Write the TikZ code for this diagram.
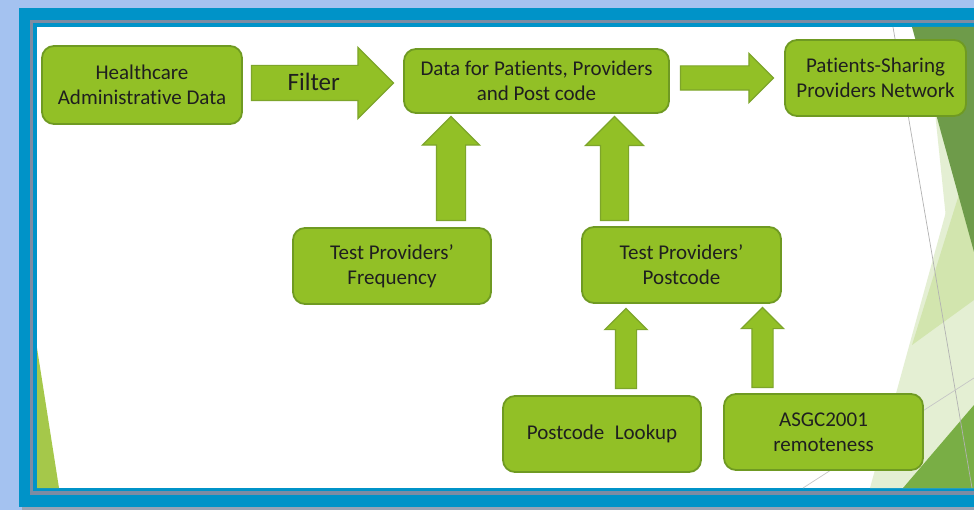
\documentclass[tikz,border=0pt]{standalone}
\usepackage{fontspec}
\setmainfont{Carlito}[Ligatures=NoCommon]
\usetikzlibrary{shapes.arrows,calc}

\definecolor{pageblue}{HTML}{A4C2F0}
\definecolor{frameblue}{HTML}{0093C8}
\definecolor{framegray}{HTML}{7D8CA3}
\definecolor{boxgreen}{HTML}{92C026}
\definecolor{boxedge}{HTML}{6F9A22}
\definecolor{arrowedge}{HTML}{7DA52A}
\definecolor{facetdark}{HTML}{6E9B4A}
\definecolor{facetmid}{HTML}{79AE45}
\definecolor{facetlight}{HTML}{D2E5AE}
\definecolor{facetpale}{HTML}{E4EFD3}
\definecolor{facetleft}{HTML}{A5C84A}

\tikzset{
  flowbox/.style={rectangle, rounded corners=12pt, draw=boxedge, line width=1.8pt,
    fill=boxgreen, align=center, text=black!88, inner sep=2pt,
    font=\fontsize{21}{25}\selectfont},
  fatarrow/.style={single arrow, single arrow tip angle=90, draw=arrowedge,
    line width=1.2pt, fill=boxgreen, inner xsep=0pt, text=black!88},
}

\begin{document}
\begin{tikzpicture}[x=1pt, y=-1pt]
    \useasboundingbox (0,0) rectangle (974,510);
    % 1. Slide background and frame
    \fill[pageblue] (0,0) rectangle (974,510);
    \fill[framegray!80] (22,11) rectangle (980,510);
    \fill[frameblue] (19,8) rectangle (980,507);
    \fill[framegray] (30,20) rectangle (980,495);
    \fill[frameblue] (33,23) rectangle (980,491);
    \fill[white] (37,27) rectangle (980,488);

    % 2. Facet triangles
    \fill[facetleft] (37,348) -- (37,488) -- (59,488) -- cycle;
    \fill[facetpale] (870,488) -- (974,110) -- (974,488) -- cycle;
    \fill[facetpale] (935,112) -- (947,228) -- (974,228) -- (974,112) -- cycle;
    \fill[facetlight] (912,345) -- (965,175) -- (974,175) -- (974,300) -- cycle;
    \fill[facetdark] (912,27) -- (974,27) -- (974,252) -- cycle;
    \fill[facetmid] (903,488) -- (974,405) -- (974,488) -- cycle;
    \draw[gray!60, line width=0.7pt] (893,27) -- (972,488);
    \draw[gray!45, line width=0.7pt] (803,488) -- (974,378);

    % 3. Boxes
    \node[flowbox, minimum width=200pt, minimum height=78pt] (hcdata) at (142,85)
        {Healthcare\\Administrative Data};
    \node[flowbox, minimum width=265pt, minimum height=64pt] (ppdata) at (536.5,81)
        {Data for Patients, Providers\\and Post code};
    \node[flowbox, minimum width=181pt, minimum height=76pt] (network) at (875.5,78)
        {Patients-Sharing\\Providers Network};
    \node[flowbox, minimum width=198pt, minimum height=76pt] (freq) at (392,266)
        {Test Providers’\\Frequency};
    \node[flowbox, minimum width=199pt, minimum height=76pt] (tppost) at (681.5,265)
        {Test Providers’\\Postcode};
    \node[flowbox, minimum width=198pt, minimum height=76pt] (lookup) at (602,434)
        {Postcode\hspace{0.5em}Lookup};
    \node[flowbox, minimum width=199pt, minimum height=76pt] (asgc) at (823.5,432)
        {ASGC2001\\remoteness};

    % 4. Block arrows
    \node[fatarrow, minimum height=142pt, inner ysep=0pt, text height=25pt, text depth=9pt,
        single arrow head extend=18pt, anchor=tail, font=\fontsize{25}{30}\selectfont] (filter)
        at ([xshift=8pt,yshift=2pt]hcdata.east) {Filter};
    \node[fatarrow, minimum height=93pt, inner ysep=11.5pt, single arrow head extend=12.5pt,
        anchor=tail] (tonet) at ([xshift=10pt,yshift=3pt]ppdata.east) {};
    \node[fatarrow, rotate=90, minimum height=104pt, inner ysep=14pt,
        single arrow head extend=14pt, anchor=tail] (upfreq)
        at ([xshift=59pt,yshift=6pt]freq.north) {};
    \node[fatarrow, rotate=90, minimum height=104pt, inner ysep=13.5pt,
        single arrow head extend=15pt, anchor=tail] (uppost)
        at ([xshift=-67pt,yshift=5pt]tppost.north) {};
    \node[fatarrow, rotate=90, minimum height=80pt, inner ysep=10pt,
        single arrow head extend=10.5pt, anchor=tail] (uplook)
        at ([xshift=24pt,yshift=6pt]lookup.north) {};
    \node[fatarrow, rotate=90, minimum height=80pt, inner ysep=10pt,
        single arrow head extend=10.5pt, anchor=tail] (upasgc)
        at ([xshift=-61pt,yshift=5pt]asgc.north) {};
\end{tikzpicture}
\end{document}
